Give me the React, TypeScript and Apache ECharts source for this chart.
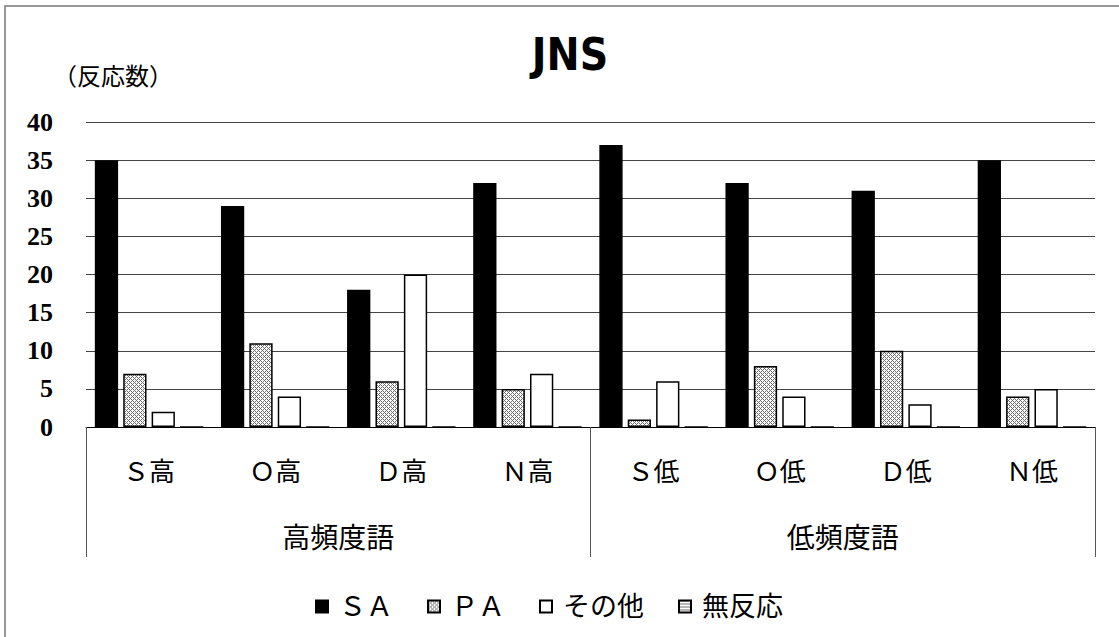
import React, { useEffect, useRef } from "react";
import * as echarts from "echarts";

const categories = ["Ｓ高", "Ｏ高", "Ｄ高", "Ｎ高", "Ｓ低", "Ｏ低", "Ｄ低", "Ｎ低"];
const groups = ["高頻度語", "低頻度語"];
const seriesNames = ["ＳＡ", "ＰＡ", "その他", "無反応"];
const saValues = [35, 29, 18, 32, 37, 32, 31, 35];
const paValues = [7, 11, 6, 5, 1, 8, 10, 4];
const otherValues = [2, 4, 20, 7, 6, 4, 3, 5];
const noneValues = [0, 0, 0, 0, 0, 0, 0, 0];
const yMin = 0;
const yMax = 40;
const yInterval = 5;

function makePattern(kind: "cross" | "hlines"): string {
  const c = document.createElement("canvas");
  const s = kind === "cross" ? 4 : 3;
  c.width = s;
  c.height = s;
  const ctx = c.getContext("2d")!;
  ctx.fillStyle = "#ffffff";
  ctx.fillRect(0, 0, s, s);
  ctx.fillStyle = "#6e6e6e";
  for (let x = 0; x < s; x++) {
    for (let y = 0; y < s; y++) {
      if (kind === "cross") {
        if ((x + y) % 4 === 0 || (x - y + 8) % 4 === 0) ctx.fillRect(x, y, 1, 1);
      } else if (y === 0) {
        ctx.fillRect(x, y, 1, 1);
      }
    }
  }
  return c.toDataURL();
}

export default function App() {
  const ref = useRef<HTMLDivElement>(null);
  useEffect(() => {
    if (!ref.current) return;
    const chart = echarts.init(ref.current, undefined, { renderer: "svg" });
    const cross = { image: makePattern("cross"), repeat: "repeat" };
    const hl = { image: makePattern("hlines"), repeat: "repeat" };
    const serifCJK = "'Liberation Serif', 'Noto Sans CJK JP', serif";
    const border = { borderColor: "#000", borderWidth: 1.5 };
    const values = [saValues, paValues, otherValues, noneValues];
    const fills: any[] = ["#000000", cross, "#ffffff", hl];
    chart.setOption({
      animation: false,
      backgroundColor: "#ffffff",
      title: {
        text: "JNS",
        left: 565,
        textAlign: "center",
        top: 27,
        textStyle: {
          fontFamily: "'Liberation Sans Narrow', 'DejaVu Sans Condensed', sans-serif",
          fontWeight: "bold",
          fontSize: 44,
          color: "#000",
        },
      },
      graphic: [
        {
          type: "rect",
          shape: { x: 5, y: 6, width: 1200, height: 700 },
          style: { fill: "none", stroke: "#777", lineWidth: 1.5 },
          silent: true,
        },
        {
          type: "text",
          left: 53,
          top: 62,
          style: {
            text: "（反応数）",
            font: "24px 'Noto Sans CJK JP', sans-serif",
            fill: "#000",
          },
        },
      ],
      legend: {
        left: 310,
        top: 588,
        itemWidth: 12,
        itemHeight: 12,
        itemGap: 34,
        icon: "rect",
        data: seriesNames,
        textStyle: {
          fontFamily: serifCJK,
          fontSize: 27,
          color: "#000",
          padding: [0, 0, 0, 6],
        },
      },
      grid: { left: 86, right: 24, top: 122, bottom: 210, containLabel: false },
      xAxis: [
        {
          type: "category",
          data: categories,
          position: "bottom",
          axisLine: { show: true, lineStyle: { color: "#000", width: 1 } },
          axisTick: { show: false },
          axisLabel: {
            margin: 32,
            fontFamily: serifCJK,
            fontSize: 26,
            color: "#000",
          },
        },
        {
          type: "category",
          data: groups,
          position: "bottom",
          offset: 0,
          axisLine: { show: false },
          axisTick: { show: true, length: 130, lineStyle: { color: "#555", width: 1 } },
          axisLabel: {
            margin: 97,
            fontFamily: serifCJK,
            fontSize: 28,
            color: "#000",
          },
        },
      ],
      yAxis: {
        type: "value",
        min: yMin,
        max: yMax,
        interval: yInterval,
        axisLine: { show: false },
        axisTick: { show: false },
        splitLine: { show: true, lineStyle: { color: "#444", width: 1 } },
        axisLabel: {
          margin: 33,
          fontFamily: "'Liberation Serif', serif",
          fontWeight: "bold",
          fontSize: 26,
          color: "#000",
        },
      },
      series: seriesNames.map((name, i) => ({
        name,
        type: "bar",
        xAxisIndex: 0,
        data: values[i],
        barCategoryGap: "14%",
        barGap: "22%",
        itemStyle: { color: fills[i], ...border },
      })),
    });
    return () => chart.dispose();
  }, []);
  return (
    <div
      ref={ref}
      style={{ position: "absolute", left: 0, top: 0, width: 1119, height: 637 }}
    />
  );
}
